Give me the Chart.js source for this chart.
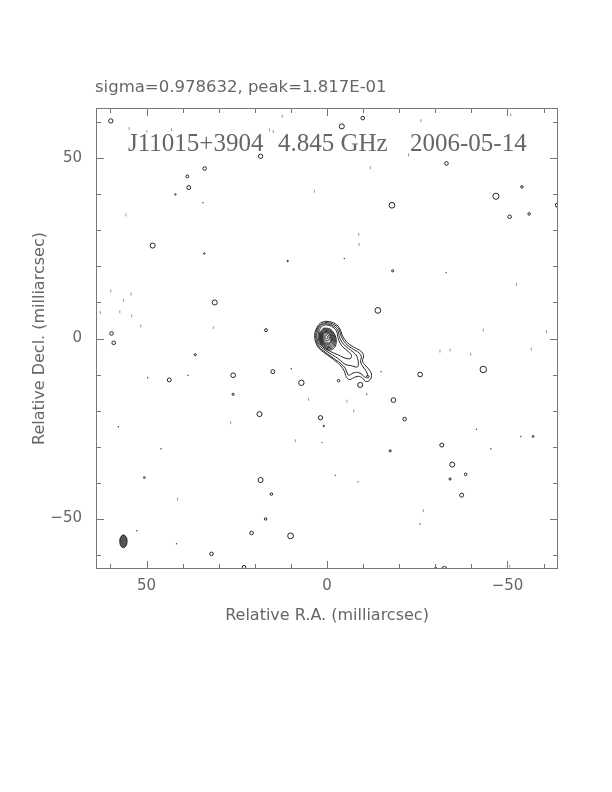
<!DOCTYPE html>
<html>
<head>
<meta charset="utf-8">
<script src="https://cdn.jsdelivr.net/npm/chart.js@4.4.1/dist/chart.umd.min.js"></script>
<style>
  html, body { margin: 0; padding: 0; background: #fff; }
  canvas { display: block; }
</style>
</head>
<body>
<canvas id="chart" width="612" height="792"></canvas>
<script>
// axis range and ticks (milliarcsec)
const axisMin = -64, axisMax = 64;
const labelTicks = [50, 0, -50];
const labelText = ['50', '0', '\u221250'];
const minorTicks = [-60, -50, -40, -30, -20, -10, 0, 10, 20, 30, 40, 50, 60];

const headerText = 'sigma=0.978632, peak=1.817E-01';
const sourceName = 'J11015+3904';
const freqText = '4.845 GHz';
const dateText = '2006-05-14';

// contours of the jet (outer levels), [RA, Dec]
const jetLevel1 = [[0.28,4.8],[-1.84,4.34],[-3.41,2.95],[-4.33,0.65],[-5.71,-1.2],[-7.73,-2.58],[-9.39,-3.51],[-10.13,-4.71],[-9.85,-6.28],[-10.77,-7.66],[-11.79,-8.77],[-12.34,-10.25],[-11.79,-11.63],[-10.68,-11.91],[-9.85,-10.99],[-8.65,-10.5],[-7.37,-10.9],[-6.17,-11.4],[-5.34,-10.62],[-4.79,-9.05],[-3.87,-7.66],[-2.49,-6.4],[-1.1,-5.3],[0.55,-4.1],[2.4,-2.5],[3.4,0.18],[3.0,2.6],[1.8,4.3]];
const jetLevel2 = [[0.3,4.45],[-1.6,4.05],[-3.2,2.7],[-4.0,0.5],[-5.2,-1.4],[-7.3,-3.0],[-8.9,-4.0],[-9.5,-5.0],[-9.3,-6.5],[-10.0,-7.9],[-10.8,-9.0],[-11.2,-10.2],[-10.6,-10.8],[-9.7,-10.0],[-8.5,-9.4],[-7.2,-9.6],[-6.0,-10.2],[-5.5,-9.3],[-5.0,-8.2],[-3.9,-7.0],[-2.4,-5.9],[-1.0,-4.9],[0.5,-3.8],[2.2,-2.3],[3.1,0.2],[2.8,2.5],[1.6,4.0]];
const jetLevel3 = [[0.3,4.1],[-1.4,3.7],[-2.9,2.4],[-3.5,0.3],[-4.6,-1.6],[-6.5,-3.2],[-8.0,-4.5],[-8.5,-5.6],[-8.7,-7.0],[-8.4,-7.9],[-7.5,-7.8],[-6.5,-7.5],[-5.3,-7.3],[-4.3,-6.6],[-3.0,-5.5],[-1.6,-4.6],[0.0,-3.6],[1.8,-2.2],[2.8,0.2],[2.5,2.4],[1.5,3.8]];
const jetLevel4 = [[0.3,3.8],[-1.2,3.4],[-2.6,2.1],[-3.1,0.0],[-4.0,-1.9],[-5.5,-3.3],[-6.7,-4.5],[-6.6,-5.5],[-5.6,-5.6],[-4.4,-5.2],[-3.2,-4.6],[-1.8,-4.0],[-0.2,-3.2],[1.5,-2.0],[2.4,0.0],[2.2,2.1],[1.3,3.5]];

// closed contours of the core
const coreRings = [
  [[0.33,0.82],[0.51,0.6],[0.48,0.22],[0.26,-0.07],[-0.03,-0.12],[-0.21,0.1],[-0.18,0.48],[0.04,0.77]],
  [[0.45,1.24],[0.81,0.79],[0.76,0.05],[0.32,-0.54],[-0.25,-0.64],[-0.61,-0.19],[-0.56,0.55],[-0.12,1.14]],
  [[0.58,1.61],[1.12,0.94],[1.04,-0.18],[0.38,-1.06],[-0.48,-1.21],[-1.02,-0.54],[-0.94,0.58],[-0.28,1.46]],
  [[0.63,1.8],[1.26,1.01],[1.18,-0.29],[0.41,-1.32],[-0.59,-1.5],[-1.22,-0.71],[-1.14,0.59],[-0.37,1.62]],
  [[0.7,1.98],[1.42,1.08],[1.32,-0.4],[0.44,-1.58],[-0.7,-1.78],[-1.42,-0.88],[-1.32,0.6],[-0.44,1.78]],
  [[0.76,2.21],[1.58,1.18],[1.47,-0.53],[0.46,-1.88],[-0.86,-2.11],[-1.68,-1.08],[-1.57,0.63],[-0.56,1.98]],
  [[0.81,2.44],[1.75,1.27],[1.62,-0.65],[0.47,-2.18],[-1.01,-2.44],[-1.95,-1.27],[-1.82,0.65],[-0.67,2.18]],
  [[0.87,2.68],[1.91,1.37],[1.76,-0.78],[0.49,-2.49],[-1.17,-2.78],[-2.21,-1.47],[-2.06,0.68],[-0.79,2.39]],
  [[0.92,2.91],[2.07,1.47],[1.91,-0.9],[0.5,-2.79],[-1.32,-3.11],[-2.47,-1.67],[-2.31,0.7],[-0.9,2.59]]
];

// small isolated contours: [RA, Dec, radius in mas]
const islands = [
  [59.9,60.4,0.6],[33.9,47.2,0.5],[38.7,45.0,0.4],[38.3,41.9,0.55],[42.0,40.0,0.2],
  [48.3,25.8,0.7],[34.0,23.6,0.2],[31.1,10.0,0.7],[59.7,1.4,0.5],[-4.1,58.9,0.7],
  [-9.9,61.2,0.5],[18.4,50.6,0.6],[-18.0,37.0,0.8],[-18.2,18.8,0.3],[-14.1,7.8,0.8],
  [10.9,21.5,0.2],[16.9,2.3,0.4],[-33.1,48.6,0.5],[-46.8,39.5,0.85],[-54.0,42.1,0.35],
  [-50.6,33.8,0.5],[-56.0,34.6,0.35],[-63.8,37.0,0.55],[59.1,-1.2,0.5],[36.5,-4.5,0.3],
  [43.7,-11.5,0.55],[26.0,-10.2,0.65],[26.0,-15.5,0.3],[50.6,-38.6,0.25],[32.0,-59.8,0.5],
  [23.0,-63.5,0.5],[20.9,-54.0,0.5],[15.0,-9.2,0.55],[7.1,-12.3,0.75],[-3.2,-11.7,0.35],
  [-9.2,-12.9,0.7],[-11.3,-10.6,0.35],[-18.4,-17.1,0.65],[18.7,-21.0,0.7],[1.8,-22.0,0.6],
  [-21.5,-22.4,0.5],[0.9,-24.3,0.2],[-17.5,-31.2,0.3],[18.4,-39.3,0.7],[15.4,-43.2,0.35],
  [17.0,-50.1,0.35],[10.1,-54.8,0.8],[-25.8,-10.0,0.65],[-43.3,-8.6,0.9],[-31.8,-29.6,0.55],
  [-34.7,-35.0,0.7],[-38.4,-37.7,0.35],[-34.1,-39.0,0.3],[-37.3,-43.5,0.55],[-57.1,-27.2,0.25],
  [-32.5,-64.0,0.7],[-30.1,-63.7,0.25]
];

// tiny positive specks
const specks = [[57.8,-24.5],[46,-30.6],[41.7,-57],[52.7,-53.4],[49.7,-10.9],[38.5,-10.2],[34.4,37.7],[-4.8,22.2],[-33,18.3],[-41.4,-25.2],[-45.4,-30.6],[-53.7,-27.2],[-25.8,-51.5],[-2.3,-38],[-8.6,-39.8],[-11,-15.5],[-15,-9.2],[9.9,-8.4],[1.4,-28.9]];

// negative (dotted) contours
const negatives = [[55.7,34.3],[59.9,13.2],[54.3,12.3],[56.4,10.6],[57.4,7.4],[54.1,6.3],[51.6,3.5],[49.9,57.5],[43.1,58],[54.8,58.3],[62.8,7.2],[31.5,3],[-12,47.4],[3.5,40.9],[-8.8,28.9],[-8.9,26.1],[14.9,57.5],[12.4,61.7],[15.9,57.9],[-52.5,15],[-43.3,2.3],[-50.9,62.1],[-26,60.5],[-60.8,1.9],[-22.6,51],[26.7,-23.4],[41.4,-44.6],[-5.5,-17.4],[-7.4,-20.1],[5.1,-16.9],[8.8,-28.4],[-31.3,-3.5],[-34.1,-3.2],[-39.8,-4.4],[-26.7,-47.8],[-50.6,-63.2],[-56.6,-3]];

// restoring beam outline
const beam = [[56.4,-54.5],[55.69,-55.03],[55.4,-56.3],[55.69,-57.57],[56.4,-58.1],[57.11,-57.57],[57.4,-56.3],[57.11,-55.03]];

const ink = '#222';
const textGray = '#666';

function loop(pts) {
  const d = pts.map(p => ({x: p[0], y: p[1]}));
  d.push({x: pts[0][0], y: pts[0][1]});
  return d;
}

function contour(pts) {
  return {
    data: loop(pts), showLine: true, tension: 0.4,
    borderColor: ink, borderWidth: 1, pointRadius: 0, fill: false
  };
}

function pxPerMas(chart) {
  const s = chart.scales.x;
  return Math.abs(s.getPixelForValue(1) - s.getPixelForValue(0));
}

const datasets = [];
[jetLevel1, jetLevel2, jetLevel3, jetLevel4].forEach(c => datasets.push(contour(c)));
coreRings.forEach(c => datasets.push(contour(c)));

datasets.push({
  data: islands.map(p => ({x: p[0], y: p[1]})),
  pointStyle: 'circle',
  pointRadius: c => islands[c.dataIndex][2] * pxPerMas(c.chart),
  backgroundColor: 'rgba(0,0,0,0)', borderColor: ink, pointBorderWidth: 1
});
datasets.push({
  data: specks.map(p => ({x: p[0], y: p[1]})),
  pointRadius: 0.7, backgroundColor: '#333', borderColor: '#333', pointBorderWidth: 0
});
datasets.push({
  data: negatives.map(p => ({x: p[0], y: p[1]})),
  pointStyle: 'line', rotation: 90, pointRadius: 1.5,
  borderColor: '#999', pointBorderWidth: 1
});
datasets.push({
  data: loop(beam), showLine: true, tension: 0.4, pointRadius: 0,
  borderColor: ink, borderWidth: 1, backgroundColor: '#555', fill: 'shape'
});

// frame, inward ticks and the map labels
const decor = {
  id: 'decor',
  afterDatasetsDraw(chart) {
    const {ctx, chartArea: a, scales: {x, y}} = chart;
    ctx.save();
    ctx.strokeStyle = '#777';
    ctx.lineWidth = 1;
    ctx.strokeRect(a.left + 0.5, a.top + 0.5, a.width - 1, a.height - 1);
    ctx.beginPath();
    minorTicks.forEach(v => {
      const len = labelTicks.includes(v) ? 8 : 5;
      const px = Math.round(x.getPixelForValue(v)) + 0.5;
      ctx.moveTo(px, a.bottom); ctx.lineTo(px, a.bottom - len);
      ctx.moveTo(px, a.top); ctx.lineTo(px, a.top + len);
      const py = Math.round(y.getPixelForValue(v)) + 0.5;
      ctx.moveTo(a.left, py); ctx.lineTo(a.left + len, py);
      ctx.moveTo(a.right, py); ctx.lineTo(a.right - len, py);
    });
    ctx.stroke();

    ctx.fillStyle = textGray;
    ctx.textBaseline = 'middle';
    ctx.textAlign = 'left';
    ctx.font = '16.5px "DejaVu Sans"';
    ctx.fillText(headerText, a.left - 1, 88);
    ctx.font = '25px "Liberation Serif"';
    ctx.fillText(sourceName, a.left + 32, 144);
    ctx.fillText(freqText, a.left + 182, 144);
    ctx.fillText(dateText, a.left + 314, 144);
    ctx.restore();
  }
};

const tickFont = {family: 'DejaVu Sans', size: 15};
const titleFont = {family: 'DejaVu Sans', size: 16};

new Chart(document.getElementById('chart'), {
  type: 'scatter',
  data: { datasets },
  options: {
    responsive: false,
    animation: false,
    layout: { padding: { top: 108, right: 54, bottom: 167, left: 0 } },
    plugins: { legend: { display: false }, tooltip: { enabled: false } },
    scales: {
      x: {
        type: 'linear', min: axisMin, max: axisMax, reverse: true,
        afterBuildTicks: s => { s.ticks = labelTicks.map(v => ({value: v})); },
        ticks: {
          callback: v => labelText[labelTicks.indexOf(v)],
          color: textGray, font: tickFont, padding: 8, maxRotation: 0
        },
        grid: { display: false, drawTicks: false },
        border: { display: false },
        title: { display: true, text: 'Relative R.A. (milliarcsec)', color: textGray, font: titleFont, padding: 0 },
        afterFit: s => { s.height = 56; }
      },
      y: {
        type: 'linear', min: axisMin, max: axisMax,
        afterBuildTicks: s => { s.ticks = labelTicks.map(v => ({value: v})); },
        ticks: {
          callback: v => labelText[labelTicks.indexOf(v)],
          color: textGray, font: tickFont, padding: 14
        },
        grid: { display: false, drawTicks: false },
        border: { display: false },
        title: { display: true, text: 'Relative Decl. (milliarcsec)', color: textGray, font: titleFont, padding: { top: 30, bottom: 0 } },
        afterFit: s => { s.width = 96; }
      }
    }
  },
  plugins: [decor]
});
</script>
</body>
</html>
